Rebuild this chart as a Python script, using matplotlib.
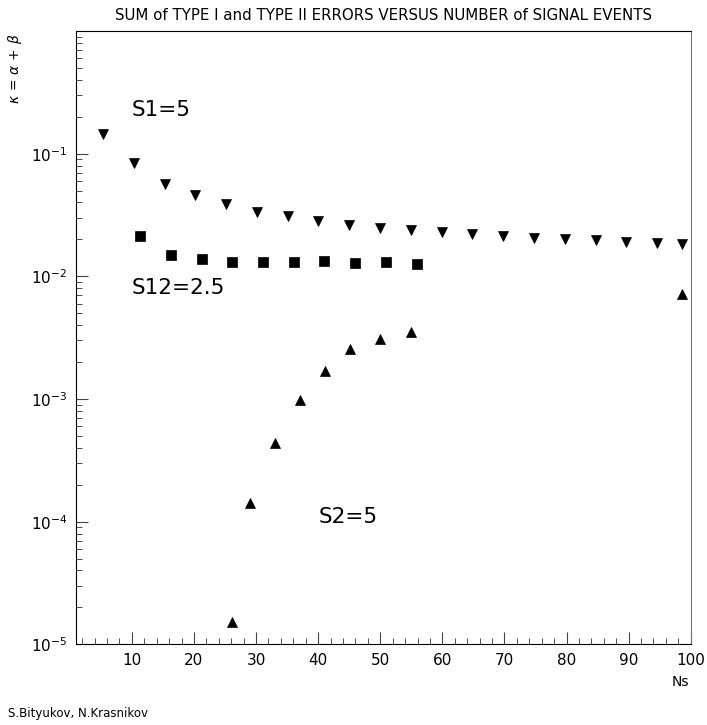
import matplotlib
matplotlib.use('Agg')
import matplotlib.pyplot as plt
from matplotlib.ticker import FixedLocator, LogLocator, NullFormatter

# S1=5 (down triangles)
ns_s1 = [5.4, 10.3, 15.3, 20.2, 25.2, 30.2, 35.1, 40.0, 45.0, 50.0,
         55.0, 59.9, 64.8, 69.8, 74.8, 79.8, 84.7, 89.6, 94.6, 98.6]
kappa_s1 = [0.1445, 0.0845, 0.0570, 0.0457, 0.0386, 0.0334, 0.0308, 0.0282,
            0.0262, 0.0249, 0.0237, 0.0229, 0.0220, 0.0212, 0.0207, 0.0200,
            0.0197, 0.0192, 0.0188, 0.0182]

# S12=2.5 (squares)
ns_s12 = [11.3, 16.3, 21.3, 26.1, 31.1, 36.1, 41.0, 45.9, 50.9, 55.9]
kappa_s12 = [0.0213, 0.0150, 0.0138, 0.0130, 0.0130, 0.0130, 0.0133,
             0.0128, 0.0131, 0.0127]

# S2=5 (up triangles)
ns_s2 = [26.1, 29.1, 33.1, 37.1, 41.1, 45.1, 49.9, 54.9, 98.6]
kappa_s2 = [1.52e-5, 1.41e-4, 4.34e-4, 9.78e-4, 1.69e-3, 2.58e-3,
            3.11e-3, 3.52e-3, 7.23e-3]

x_ticks = [10, 20, 30, 40, 50, 60, 70, 80, 90, 100]
y_ticks = [1e-5, 1e-4, 1e-3, 1e-2, 1e-1]
y_ticklabels = [r'$10^{-5}$', r'$10^{-4}$', r'$10^{-3}$', r'$10^{-2}$', r'$10^{-1}$']

plt.rcParams['font.family'] = ['DejaVu Sans']
plt.rcParams['mathtext.fontset'] = 'dejavusans'

fig = plt.figure(figsize=(7.07, 7.25), dpi=100)
ax = fig.add_axes([0.1075, 0.1113, 0.977 - 0.1075, 0.9572 - 0.1113])

ax.plot(ns_s1, kappa_s1, linestyle='none', marker='v', color='black',
        markersize=7, markeredgewidth=0.5)
ax.plot(ns_s12, kappa_s12, linestyle='none', marker='s', color='black',
        markersize=7.5, markeredgewidth=0.5)
ax.plot(ns_s2, kappa_s2, linestyle='none', marker='^', color='black',
        markersize=7, markeredgewidth=0.5)

ax.set_yscale('log')
ax.set_xlim(1, 100)
ax.set_ylim(1e-5, 1)

ax.xaxis.set_major_locator(FixedLocator(x_ticks))
ax.xaxis.set_minor_locator(FixedLocator(list(range(2, 100, 2))))
ax.set_xticklabels([str(v) for v in x_ticks])
ax.set_yticks(y_ticks)
ax.set_yticklabels(y_ticklabels)
ax.yaxis.set_minor_locator(LogLocator(base=10, subs=range(2, 10), numticks=20))
ax.yaxis.set_minor_formatter(NullFormatter())

ax.tick_params(which='major', direction='in', length=8.4, width=0.8,
               labelsize=11, color='#444444', pad=6)
ax.tick_params(which='minor', direction='in', length=4, width=0.6,
               color='#333333')
ax.tick_params(top=False, right=False, which='both')
for s in ax.spines.values():
    s.set_linewidth(0.8)
ax.spines['right'].set_color('#777777')

ax.set_title('SUM of TYPE I and TYPE II ERRORS VERSUS NUMBER of SIGNAL EVENTS',
             fontsize=10.8, pad=8)

fig.text(0.021, 0.905, r'$\kappa\,=\,\alpha\,+\,\beta$', rotation=90,
         ha='center', va='center', fontsize=10)
fig.text(0.963, 0.060, 'Ns', ha='center', va='center', fontsize=10)
fig.text(0.011, 0.016, 'S.Bityukov, N.Krasnikov', ha='left', va='center',
         fontsize=8.5)

ax.text(10.0, 0.2255, 'S1=5', fontsize=15.5, va='center', ha='left')
ax.text(10.0, 0.0080, 'S12=2.5', fontsize=15.5, va='center', ha='left')
ax.text(40.0, 1.09e-4, 'S2=5', fontsize=15.5, va='center', ha='left')

fig.savefig('out.png', dpi=100)
